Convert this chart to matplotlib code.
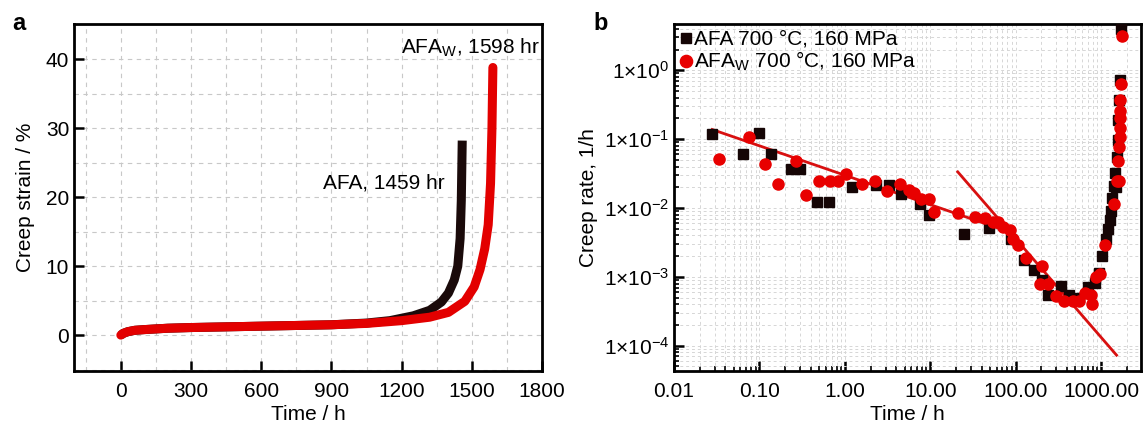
import matplotlib
matplotlib.use("Agg")
import matplotlib.pyplot as plt
import numpy as np
from matplotlib.ticker import FixedLocator, FuncFormatter, LogLocator, NullFormatter

plt.rcParams['font.family'] = ['Liberation Sans', 'DejaVu Sans']
plt.rcParams['mathtext.fontset'] = 'custom'
plt.rcParams['mathtext.rm'] = 'Liberation Sans'
plt.rcParams['mathtext.default'] = 'regular'

# panel a: creep strain curves
afa_t = [0, 10, 30, 60, 100, 200, 300, 450, 600, 750, 900, 1050, 1150, 1250, 1320, 1370, 1400, 1425, 1440, 1450, 1455, 1459]
afa_s = [0.0, 0.25, 0.5, 0.7, 0.8, 1.0, 1.1, 1.2, 1.3, 1.4, 1.5, 1.75, 2.1, 2.8, 3.6, 4.8, 6.1, 8.0, 10.0, 14.0, 19.5, 28.2]
afaw_t = [0, 10, 30, 60, 100, 200, 300, 450, 600, 750, 900, 1050, 1200, 1320, 1400, 1470, 1510, 1535, 1555, 1570, 1580, 1586, 1590]
afaw_s = [0.0, 0.25, 0.5, 0.7, 0.8, 1.0, 1.1, 1.2, 1.3, 1.4, 1.5, 1.7, 2.1, 2.6, 3.3, 4.9, 7.0, 9.5, 12.5, 16.0, 22.0, 30.0, 38.8]

# panel b: creep rate vs time
sq_t = [0.028, 0.064, 0.10, 0.135, 0.236, 0.30, 0.47, 0.65, 1.2, 2.3, 3.3, 4.6, 7.5, 9.6, 25, 49, 89,
        127, 164, 204, 238, 339, 420, 554, 707, 850, 955, 1030, 1156, 1220, 1260, 1320, 1360, 1420,
        1470, 1500, 1530, 1560, 1600, 1640, 1660, 1700]
sq_r = [0.12, 0.060, 0.123, 0.060, 0.0366, 0.0366, 0.0122, 0.0122, 0.020, 0.0214, 0.0214, 0.016, 0.0116, 0.0079,
        0.0042, 0.0051, 0.0036, 0.00175, 0.00126, 0.00089, 0.00055, 0.00074, 0.00055, 0.0005, 0.00072, 0.00082,
        0.00115, 0.0020, 0.0035, 0.0049, 0.0066, 0.0091, 0.014, 0.021, 0.032, 0.020, 0.055, 0.096, 0.19, 0.37,
        0.72, 4.0]
ci_t = [0.034, 0.076, 0.116, 0.164, 0.266, 0.35, 0.50, 0.67, 0.84, 1.02, 1.59, 2.28, 3.1, 4.4, 5.6, 6.5,
        7.9, 9.6, 11.2, 21, 33, 44, 54, 63, 71, 85, 94, 107, 132, 205, 191, 238, 297, 370, 468, 550,
        650, 760, 775, 880, 960, 1100, 1420, 1550, 1640, 1600, 1620, 1650, 1660, 1670, 1680, 1690, 1700, 1750]
ci_r = [0.051, 0.108, 0.043, 0.0227, 0.049, 0.0155, 0.0248, 0.0248, 0.0248, 0.031, 0.022, 0.025, 0.0178, 0.0227,
        0.018, 0.0168, 0.0135, 0.0135, 0.0088, 0.0085, 0.0074, 0.0071, 0.0063, 0.0063, 0.0053, 0.0048, 0.0035,
        0.0029, 0.0019, 0.00144, 0.0008, 0.00079, 0.00053, 0.00045, 0.00044, 0.00044, 0.00058, 0.00055, 0.0004,
        0.001, 0.0011, 0.0029, 0.0114, 0.025, 0.025, 0.048, 0.077, 0.108, 0.143, 0.2, 0.26, 0.37, 0.64, 3.1]
fit1_t = [0.028, 94]
fit1_r = [0.138, 0.0043]
fit2_t = [21, 1520]
fit2_r = [0.0335, 7.3e-5]

xticks_a = [0, 300, 600, 900, 1200, 1500, 1800]
yticks_a = [0, 10, 20, 30, 40]
xticks_b = [0.01, 0.1, 1, 10, 100, 1000]
yticks_b = [1e-4, 1e-3, 1e-2, 1e-1, 1e0]

fig = plt.figure(figsize=(11.44, 4.32), dpi=100)
ax1 = fig.add_axes([0.0647, 0.1412, 0.4091, 0.8032])
ax2 = fig.add_axes([0.5892, 0.1412, 0.4082, 0.8032])

fs = 15

#plot a
ax1.plot(afa_t, afa_s, color='#1a0a0a', lw=6.5, solid_capstyle='butt', zorder=3)
ax1.plot(afaw_t, afaw_s, color='#e30000', lw=6.5, solid_capstyle='round', zorder=4)
ax1.set_xlim(-200, 1800)
ax1.set_ylim(-5.2, 45.1)
ax1.set_xticks(xticks_a)
ax1.set_yticks(yticks_a)
ax1.xaxis.set_minor_locator(FixedLocator(np.arange(-150, 1800, 150)))
ax1.yaxis.set_minor_locator(FixedLocator(np.arange(-5, 45, 5)))
ax1.grid(True, which='both', color='#c8c8c8', ls=(0, (4, 4)), lw=0.8)
ax1.tick_params(which='major', direction='in', length=7, width=1.8, labelsize=fs)
ax1.tick_params(axis='x', which='major', pad=8)
ax1.tick_params(which='minor', length=0)
ax1.set_xlabel('Time / h', fontsize=fs, labelpad=3)
ax1.set_ylabel('Creep strain / %', fontsize=fs, labelpad=8)
ax1.text(1790, 41.6, r'AFA$_\mathregular{W}$, 1598 hr', fontsize=fs, ha='right', va='center')
ax1.text(1385, 22.0, 'AFA, 1459 hr', fontsize=fs, ha='right', va='center')
for s in ax1.spines.values():
    s.set_linewidth(2)

#plot b
ax2.set_xscale('log')
ax2.set_yscale('log')
ax2.plot(fit1_t, fit1_r, color='#d81010', lw=2, zorder=3)
ax2.plot(fit2_t, fit2_r, color='#d81010', lw=2, zorder=3)
ax2.plot(sq_t, sq_r, 's', color='#150505', ms=7, ls='none', zorder=4, label='AFA 700 °C, 160 MPa')
ax2.plot(ci_t, ci_r, 'o', color='#e80000', ms=8, ls='none', zorder=5,
         label=r'AFA$_\mathregular{W}$ 700 °C, 160 MPa')
ax2.set_xlim(0.01, 2940)
ax2.set_ylim(4.3e-5, 4.7)
ax2.set_xticks(xticks_b)
ax2.set_yticks(yticks_b)
ax2.xaxis.set_major_formatter(FuncFormatter(lambda v, p: '%.2f' % v))
ax2.yaxis.set_major_formatter(FuncFormatter(lambda v, p: r'$1{\times}10^{%d}$' % round(np.log10(v))))
ax2.xaxis.set_minor_locator(LogLocator(base=10, subs=np.arange(2, 10), numticks=20))
ax2.yaxis.set_minor_locator(LogLocator(base=10, subs=np.arange(2, 10), numticks=20))
ax2.xaxis.set_minor_formatter(NullFormatter())
ax2.yaxis.set_minor_formatter(NullFormatter())
ax2.grid(True, which='both', color='#d6d6d6', ls=(0, (3, 3)), lw=0.7)
ax2.tick_params(which='major', direction='in', length=7, width=1.8, labelsize=fs)
ax2.tick_params(axis='x', which='major', pad=8)
ax2.tick_params(which='minor', direction='in', length=3.5, width=1.2)
ax2.set_xlabel('Time / h', fontsize=fs, labelpad=3)
ax2.set_ylabel('Creep rate, 1/h', fontsize=fs, labelpad=4)
ax2.legend(loc='upper left', bbox_to_anchor=(-0.02, 1.025), frameon=False, fontsize=fs,
           handlelength=0.6, handletextpad=0.1, borderpad=0.2, labelspacing=0.05, markerscale=1.1)
for s in ax2.spines.values():
    s.set_linewidth(2)

fig.text(0.011, 0.945, 'a', fontsize=17, fontweight='bold', va='center')
fig.text(0.519, 0.945, 'b', fontsize=17, fontweight='bold', va='center')

fig.savefig('out.png', dpi=100)
